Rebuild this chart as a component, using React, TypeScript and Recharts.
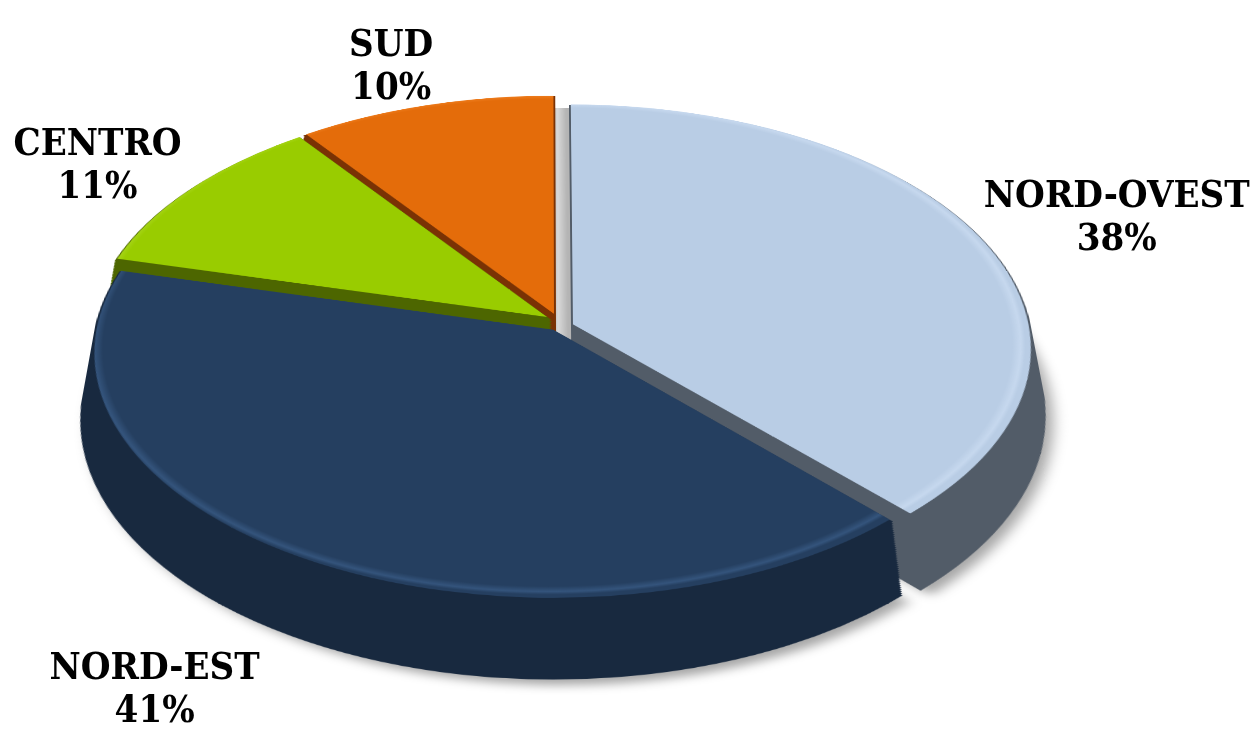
import React from 'react';
import { PieChart, Pie, Cell } from 'recharts';

// ---- data ----
const regions = ['NORD-OVEST', 'NORD-EST', 'CENTRO', 'SUD'];
const shares = [38, 41, 11, 10];

// ---- style ----
const topColors = ['#b9cde5', '#253f60', '#99cc00', '#e46c0a'];
const rimColors = ['#c6d8ee', '#34547c', '#a8d61c', '#ee7d1e'];
const sideColors = ['#525c68', '#18293f', '#4d6600', '#7a3204'];
const explode = [
  { dx: 20, dy: -10 },
  { dx: 0, dy: 0 },
  { dx: -6, dy: -24 },
  { dx: 1, dy: -30 },
];
const drawOrder = [0, 3, 2, 1];

const W = 1254;
const H = 729;
const OFF = 220;
const PW = 1254;
const PCX = 548;
const PCY = 327;
const R = 456;
const TILT = 58;
const PERSP = 4000;
const LAYERS = 40;
const STEP = 3;
const PH = OFF + PCY + R + LAYERS * STEP + 80;
const FS = 38;

const pieData = regions.map((name, i) => ({ name, value: shares[i] }));

const RAD = Math.PI / 180;
function project(x: number, y: number) {
  const s = Math.sin(TILT * RAD);
  const c = Math.cos(TILT * RAD);
  const k = PERSP / (PERSP - y * s);
  return { X: PCX + x * k, Y: PCY + y * c * k };
}

const renderLabel = (props: any) => {
  const i = props.index;
  const m = props.midAngle * RAD;
  const cs = Math.cos(m);
  const sn = Math.sin(m);
  const lower = sn < 0;
  const tip = project(explode[i].dx, explode[i].dy);
  const e = project(explode[i].dx + R * cs, explode[i].dy - R * sn);
  const ex = e.X - tip.X;
  const ey = e.Y - tip.Y;
  const dist = Math.hypot(ex, ey);
  const ux = ex / dist;
  const uy = ey / dist;
  const lines = [regions[i], `${shares[i]}%`];
  const w = 0.68 * FS * Math.max(...lines.map((l) => l.length));
  const h = 75;
  const boxDist = Math.min(w / 2 / Math.max(Math.abs(ux), 1e-6), h / 2 / Math.max(Math.abs(uy), 1e-6));
  const gap = lower ? 132 : 12;
  const d = dist + boxDist + gap;
  const x = tip.X + ux * d;
  const yc = tip.Y + uy * d;
  return (
    <text
      key={`lbl-${i}`}
      textAnchor="middle"
      fontFamily="'DejaVu Serif Condensed', 'DejaVu Serif', serif"
      fontWeight="bold"
      fontSize={FS}
      fill="#000"
    >
      <tspan x={x} y={yc}>{lines[0]}</tspan>
      <tspan x={x} y={yc + 43}>{lines[1]}</tspan>
    </text>
  );
};

function layerPie(key: string, gi: number, cx: number, cy: number, fill: string, extra: any = {}) {
  return (
    <Pie
      key={key}
      data={pieData}
      dataKey="value"
      nameKey="name"
      cx={cx}
      cy={cy}
      outerRadius={R}
      startAngle={90}
      endAngle={-270}
      isAnimationActive={false}
      stroke="none"
      labelLine={false}
    >
      {pieData.map((d, i) => (
        <Cell
          key={d.name}
          fill={i === gi ? fill : 'none'}
          stroke={i === gi && extra.stroke ? fill : 'none'}
          strokeWidth={extra.stroke ? STEP + 1 : 0}
          fillOpacity={i === gi && extra.opacity ? extra.opacity : 1}
          filter={i === gi && extra.filter ? extra.filter : undefined}
        />
      ))}
    </Pie>
  );
}

export default function App() {
  const pies: React.ReactNode[] = [];
  const y0 = OFF + PCY;
  // soft drop shadows
  for (const gi of [0, 1]) {
    pies.push(
      layerPie(`shadow-${gi}`, gi, PCX + explode[gi].dx + 8, y0 + explode[gi].dy + LAYERS * STEP + 10, '#000', {
        opacity: 0.35,
        filter: 'url(#blur)',
      })
    );
  }
  for (const gi of drawOrder) {
    const ox = PCX + explode[gi].dx;
    const oy = y0 + explode[gi].dy;
    if (gi === 0) {
      for (let k = 6; k >= 1; k--) {
        pies.push(layerPie(`wall-${k}`, gi, ox - k * 3, oy + 10, 'url(#wall0)', { stroke: true }));
      }
    }
    for (let k = LAYERS; k >= 1; k--) {
      pies.push(layerPie(`side-${gi}-${k}`, gi, ox, oy + k * STEP, `url(#side${gi})`, { stroke: true }));
    }
    pies.push(layerPie(`top-${gi}`, gi, ox, oy, `url(#top${gi})`));
  }

  return (
    <div style={{ position: 'absolute', left: 0, top: 0, width: W, height: H, overflow: 'hidden', background: '#fff' }}>
      <div
        style={{
          position: 'absolute',
          left: 0,
          top: -OFF,
          width: PW,
          height: PH,
          transformOrigin: `${PCX}px ${OFF + PCY}px`,
          transform: `perspective(${PERSP}px) rotateX(${TILT}deg)`,
        }}
      >
        <PieChart width={PW} height={PH}>
          <defs>
            <filter id="blur" x="-20%" y="-20%" width="140%" height="140%">
              <feGaussianBlur stdDeviation="7" />
            </filter>
            {topColors.map((c, i) => (
              <radialGradient
                key={`t${i}`}
                id={`top${i}`}
                gradientUnits="userSpaceOnUse"
                cx={PCX + explode[i].dx}
                cy={y0 + explode[i].dy}
                r={R}
              >
                <stop offset="0" stopColor={c} />
                <stop offset="0.972" stopColor={c} />
                <stop offset="0.99" stopColor={rimColors[i]} />
                <stop offset="1" stopColor={c} />
              </radialGradient>
            ))}
            {sideColors.map((c, i) => (
              <linearGradient key={`s${i}`} id={`side${i}`} gradientUnits="userSpaceOnUse" x1={PCX - R} y1={0} x2={PCX + R} y2={0}>
                <stop offset="0" stopColor={c} />
                <stop offset="1" stopColor={c} />
              </linearGradient>
            ))}
            <linearGradient id="wall0" gradientUnits="userSpaceOnUse" x1={PCX + explode[0].dx - 18} y1={0} x2={PCX + explode[0].dx} y2={0}>
              <stop offset="0" stopColor="#9c9c9c" />
              <stop offset="0.45" stopColor="#d9d9d9" />
              <stop offset="1" stopColor="#b4b4b4" />
            </linearGradient>
          </defs>
          {pies}
        </PieChart>
      </div>
      <div style={{ position: 'absolute', left: 0, top: 0, width: W, height: H }}>
        <PieChart width={W} height={H}>
          <Pie
            data={pieData}
            dataKey="value"
            nameKey="name"
            cx={PCX}
            cy={PCY}
            outerRadius={R}
            startAngle={90}
            endAngle={-270}
            isAnimationActive={false}
            stroke="none"
            labelLine={false}
            label={renderLabel}
          >
            {pieData.map((d) => (
              <Cell key={d.name} fill="none" stroke="none" />
            ))}
          </Pie>
        </PieChart>
      </div>
    </div>
  );
}
